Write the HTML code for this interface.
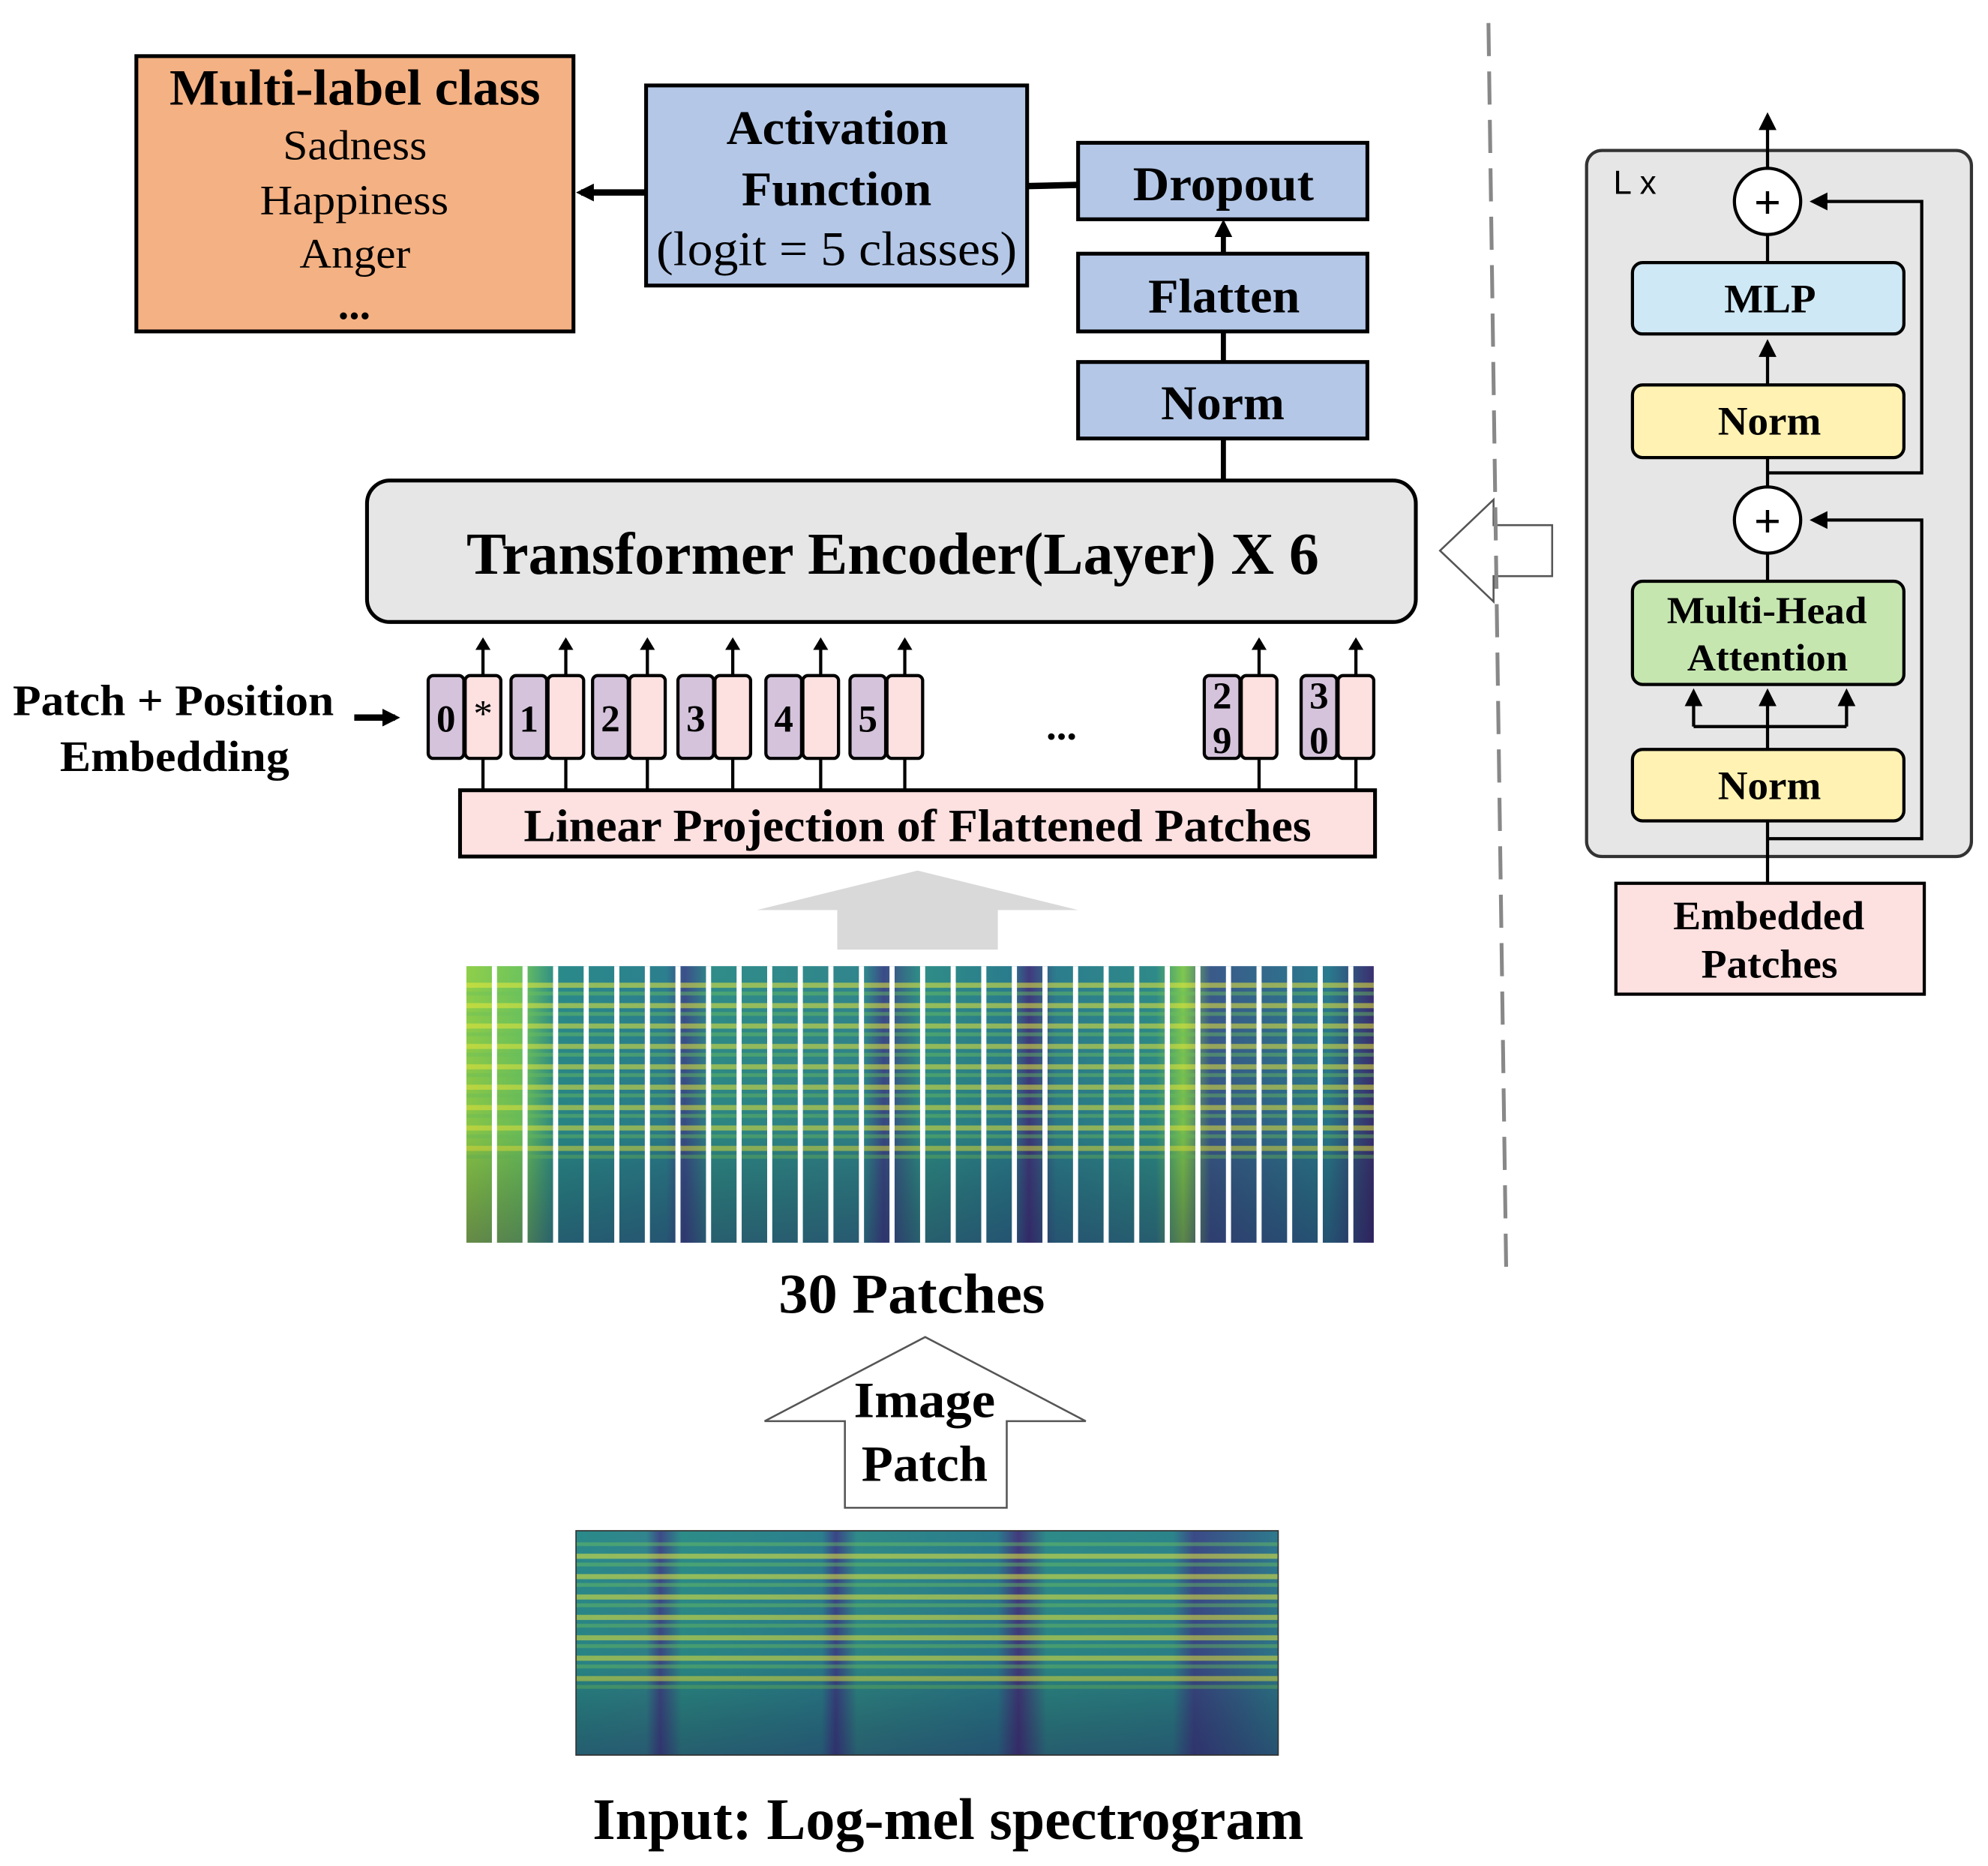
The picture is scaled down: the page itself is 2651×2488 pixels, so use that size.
<!DOCTYPE html>
<html><head><meta charset="utf-8"><style>
html,body{margin:0;padding:0;background:#fff;}
svg{display:block;}
text{font-family:"Liberation Serif",serif;}
</style></head><body>
<svg width="2651" height="2488" viewBox="0 0 1560 1464" xmlns="http://www.w3.org/2000/svg">
<defs>
<marker id="ah" markerWidth="10" markerHeight="12" refX="7" refY="6" orient="auto" markerUnits="userSpaceOnUse"><path d="M0,0 L10,6 L0,12 Z" fill="#000"/></marker>
<marker id="ah2" markerWidth="14" markerHeight="14" refX="10" refY="7" orient="auto" markerUnits="userSpaceOnUse"><path d="M0,0 L14,7 L0,14 Z" fill="#000"/></marker>
<linearGradient id="cols" x1="0" x2="1" y1="0" y2="0">
<stop offset="0" stop-color="#8fcf4a"/><stop offset="0.06" stop-color="#6ec45c"/><stop offset="0.1" stop-color="#2a8a8a"/>
<stop offset="0.22" stop-color="#2c7f8e"/><stop offset="0.24" stop-color="#3a4f8a"/><stop offset="0.27" stop-color="#2f8c88"/>
<stop offset="0.44" stop-color="#30858c"/><stop offset="0.46" stop-color="#3b4a87"/><stop offset="0.5" stop-color="#2f8d86"/>
<stop offset="0.6" stop-color="#2a7c8d"/><stop offset="0.62" stop-color="#403a7e"/><stop offset="0.65" stop-color="#2c7d8d"/>
<stop offset="0.76" stop-color="#2e8a88"/><stop offset="0.79" stop-color="#7ec84f"/><stop offset="0.82" stop-color="#3a5a8a"/>
<stop offset="0.95" stop-color="#2a7a8d"/><stop offset="1" stop-color="#3a2f70"/>
</linearGradient>
<linearGradient id="cols2" x1="0" x2="1" y1="0" y2="0">
<stop offset="0" stop-color="#2a8a8a"/><stop offset="0.1" stop-color="#30868c"/><stop offset="0.12" stop-color="#3d4a87"/><stop offset="0.15" stop-color="#2c8c88"/>
<stop offset="0.35" stop-color="#2b7f8d"/><stop offset="0.37" stop-color="#3b4587"/><stop offset="0.4" stop-color="#2f8a88"/>
<stop offset="0.6" stop-color="#2a7b8d"/><stop offset="0.63" stop-color="#423a7d"/><stop offset="0.67" stop-color="#2d8a88"/>
<stop offset="0.85" stop-color="#2c848b"/><stop offset="0.88" stop-color="#3b4a87"/><stop offset="1" stop-color="#2e7a8d"/>
</linearGradient>
<linearGradient id="vshade" x1="0" x2="0" y1="0" y2="1">
<stop offset="0" stop-color="#000" stop-opacity="0"/><stop offset="0.6" stop-color="#000" stop-opacity="0.05"/><stop offset="1" stop-color="#1a0a40" stop-opacity="0.35"/>
</linearGradient>
<pattern id="bands" width="20" height="16" patternUnits="userSpaceOnUse">
<rect y="3" width="20" height="4" fill="#e8e83a" opacity="0.55"/>
<rect y="10" width="20" height="3" fill="#6cc45a" opacity="0.45"/>
</pattern>
</defs>

<!-- Multi-label -->
<rect x="107" y="44" width="343" height="216" fill="#f4b183" stroke="#000" stroke-width="3"/>
<text x="133" y="82" font-size="40" font-weight="bold" textLength="291" lengthAdjust="spacingAndGlyphs">Multi-label class</text>
<text x="222" y="125" font-size="33" textLength="113" lengthAdjust="spacingAndGlyphs">Sadness</text>
<text x="204" y="168" font-size="33" textLength="148" lengthAdjust="spacingAndGlyphs">Happiness</text>
<text x="235" y="210" font-size="33" textLength="87" lengthAdjust="spacingAndGlyphs">Anger</text>
<text x="278" y="250" font-size="34" font-weight="bold" text-anchor="middle">...</text>
<line x1="507" y1="151" x2="456" y2="151" stroke="#000" stroke-width="5" marker-end="url(#ah2)"/>

<!-- Activation -->
<rect x="507" y="67" width="299" height="157" fill="#b4c7e7" stroke="#000" stroke-width="3"/>
<text x="570" y="113" font-size="38" font-weight="bold" textLength="174" lengthAdjust="spacingAndGlyphs">Activation</text>
<text x="582" y="161" font-size="38" font-weight="bold" textLength="149" lengthAdjust="spacingAndGlyphs">Function</text>
<text x="515" y="208" font-size="38" textLength="283" lengthAdjust="spacingAndGlyphs">(logit = 5 classes)</text>
<line x1="806" y1="146" x2="846" y2="145" stroke="#000" stroke-width="5"/>

<rect x="846" y="112" width="227" height="60" fill="#b4c7e7" stroke="#000" stroke-width="3"/>
<text x="889" y="157" font-size="38" font-weight="bold" textLength="142" lengthAdjust="spacingAndGlyphs">Dropout</text>
<rect x="846" y="199" width="227" height="61" fill="#b4c7e7" stroke="#000" stroke-width="3"/>
<text x="901" y="245" font-size="38" font-weight="bold" textLength="119" lengthAdjust="spacingAndGlyphs">Flatten</text>
<rect x="846" y="284" width="227" height="60" fill="#b4c7e7" stroke="#000" stroke-width="3"/>
<text x="911" y="329" font-size="38" font-weight="bold" textLength="97" lengthAdjust="spacingAndGlyphs">Norm</text>
<line x1="960" y1="199" x2="960" y2="176" stroke="#000" stroke-width="4" marker-end="url(#ah2)"/>
<line x1="960" y1="260" x2="960" y2="284" stroke="#000" stroke-width="4"/>
<line x1="960" y1="344" x2="960" y2="377" stroke="#000" stroke-width="4"/>

<!-- Encoder -->
<rect x="288" y="377" width="823" height="111" rx="18" fill="#e6e6e6" stroke="#000" stroke-width="3"/>
<text x="366" y="450" font-size="47" font-weight="bold" textLength="669" lengthAdjust="spacingAndGlyphs">Transformer Encoder(Layer) X 6</text>
<polygon points="1130,432 1172,392 1172,412 1218,412 1218,452 1172,452 1172,472" fill="#fff" stroke="#555" stroke-width="1.5"/>

<!-- dashed -->
<line x1="1168" y1="18" x2="1182" y2="1002" stroke="#888" stroke-width="3" stroke-dasharray="26,12"/>

<!-- tokens -->
<g stroke="#000" stroke-width="2.5">
<line x1="379" y1="595" x2="379" y2="620"/><line x1="444" y1="595" x2="444" y2="620"/><line x1="508" y1="595" x2="508" y2="620"/><line x1="575" y1="595" x2="575" y2="620"/><line x1="644" y1="595" x2="644" y2="620"/><line x1="710" y1="595" x2="710" y2="620"/><line x1="988" y1="595" x2="988" y2="620"/><line x1="1064" y1="595" x2="1064" y2="620"/>
<line x1="379" y1="530" x2="379" y2="503" marker-end="url(#ah)"/><line x1="444" y1="530" x2="444" y2="503" marker-end="url(#ah)"/><line x1="508" y1="530" x2="508" y2="503" marker-end="url(#ah)"/><line x1="575" y1="530" x2="575" y2="503" marker-end="url(#ah)"/><line x1="644" y1="530" x2="644" y2="503" marker-end="url(#ah)"/><line x1="710" y1="530" x2="710" y2="503" marker-end="url(#ah)"/><line x1="988" y1="530" x2="988" y2="503" marker-end="url(#ah)"/><line x1="1064" y1="530" x2="1064" y2="503" marker-end="url(#ah)"/>
<rect x="336" y="530" width="28" height="65" rx="4" fill="#d5c3dc"/><rect x="365" y="530" width="28" height="65" rx="4" fill="#fde0e0"/>
<rect x="401" y="530" width="28" height="65" rx="4" fill="#d5c3dc"/><rect x="430" y="530" width="28" height="65" rx="4" fill="#fde0e0"/>
<rect x="465" y="530" width="28" height="65" rx="4" fill="#d5c3dc"/><rect x="494" y="530" width="28" height="65" rx="4" fill="#fde0e0"/>
<rect x="532" y="530" width="28" height="65" rx="4" fill="#d5c3dc"/><rect x="561" y="530" width="28" height="65" rx="4" fill="#fde0e0"/>
<rect x="601" y="530" width="28" height="65" rx="4" fill="#d5c3dc"/><rect x="630" y="530" width="28" height="65" rx="4" fill="#fde0e0"/>
<rect x="667" y="530" width="28" height="65" rx="4" fill="#d5c3dc"/><rect x="696" y="530" width="28" height="65" rx="4" fill="#fde0e0"/>
<rect x="945" y="530" width="28" height="65" rx="4" fill="#d5c3dc"/><rect x="974" y="530" width="28" height="65" rx="4" fill="#fde0e0"/>
<rect x="1021" y="530" width="28" height="65" rx="4" fill="#d5c3dc"/><rect x="1050" y="530" width="28" height="65" rx="4" fill="#fde0e0"/>
</g>
<g font-size="30" font-weight="bold" text-anchor="middle">
<text x="350" y="574">0</text><text x="379" y="570" font-weight="normal">*</text>
<text x="415" y="574">1</text><text x="479" y="574">2</text><text x="546" y="574">3</text><text x="615" y="574">4</text><text x="681" y="574">5</text>
<text x="959" y="556">2</text><text x="959" y="591">9</text>
<text x="1035" y="556">3</text><text x="1035" y="591">0</text>
</g>
<text x="833" y="580" font-size="32" font-weight="bold" text-anchor="middle">...</text>
<rect x="361" y="620" width="718" height="52" fill="#fde0e0" stroke="#000" stroke-width="3"/>
<text x="411" y="660" font-size="36" font-weight="bold" textLength="618" lengthAdjust="spacingAndGlyphs">Linear Projection of Flattened Patches</text>

<text x="10" y="561" font-size="34" font-weight="bold" textLength="252" lengthAdjust="spacingAndGlyphs">Patch + Position</text>
<text x="47" y="605" font-size="34" font-weight="bold" textLength="180" lengthAdjust="spacingAndGlyphs">Embedding</text>
<line x1="278" y1="563" x2="310" y2="563" stroke="#000" stroke-width="5" marker-end="url(#ah2)"/>

<polygon points="594,714 720,683 846,714 783,714 783,745 657,745 657,714" fill="#d9d9d9"/>

<!-- spectrogram 1 -->
<rect x="366" y="758" width="712" height="217" fill="url(#cols)"/>
<rect x="366" y="770" width="712" height="140" fill="url(#bands)"/>
<rect x="366" y="758" width="712" height="217" fill="url(#vshade)"/>
<g fill="#fff">
<rect x="386" y="758" width="4" height="217"/><rect x="410" y="758" width="4" height="217"/><rect x="434" y="758" width="4" height="217"/><rect x="458" y="758" width="4" height="217"/><rect x="482" y="758" width="4" height="217"/><rect x="506" y="758" width="4" height="217"/><rect x="530" y="758" width="4" height="217"/><rect x="554" y="758" width="4" height="217"/><rect x="578" y="758" width="4" height="217"/><rect x="602" y="758" width="4" height="217"/><rect x="626" y="758" width="4" height="217"/><rect x="650" y="758" width="4" height="217"/><rect x="674" y="758" width="4" height="217"/><rect x="698" y="758" width="4" height="217"/><rect x="722" y="758" width="4" height="217"/><rect x="746" y="758" width="4" height="217"/><rect x="770" y="758" width="4" height="217"/><rect x="794" y="758" width="4" height="217"/><rect x="818" y="758" width="4" height="217"/><rect x="842" y="758" width="4" height="217"/><rect x="866" y="758" width="4" height="217"/><rect x="890" y="758" width="4" height="217"/><rect x="914" y="758" width="4" height="217"/><rect x="938" y="758" width="4" height="217"/><rect x="962" y="758" width="4" height="217"/><rect x="986" y="758" width="4" height="217"/><rect x="1010" y="758" width="4" height="217"/><rect x="1034" y="758" width="4" height="217"/><rect x="1058" y="758" width="4" height="217"/>
</g>
<text x="611" y="1030" font-size="44" font-weight="bold" textLength="209" lengthAdjust="spacingAndGlyphs">30 Patches</text>

<polygon points="600,1115 726,1049 852,1115 790,1115 790,1183 663,1183 663,1115" fill="#fff" stroke="#555" stroke-width="1.5"/>
<text x="670" y="1112" font-size="40" font-weight="bold" textLength="111" lengthAdjust="spacingAndGlyphs">Image</text>
<text x="676" y="1162" font-size="40" font-weight="bold" textLength="99" lengthAdjust="spacingAndGlyphs">Patch</text>

<!-- spectrogram 2 -->
<rect x="452" y="1201" width="551" height="176" fill="url(#cols2)"/>
<rect x="452" y="1210" width="551" height="120" fill="url(#bands)"/>
<rect x="452" y="1201" width="551" height="176" fill="url(#vshade)"/>
<rect x="452" y="1201" width="551" height="176" fill="none" stroke="#333" stroke-width="1"/>
<text x="465" y="1443" font-size="46" font-weight="bold" textLength="558" lengthAdjust="spacingAndGlyphs">Input: Log-mel spectrogram</text>

<!-- right panel -->
<rect x="1245" y="118" width="302" height="554" rx="12" fill="#e6e6e6" stroke="#333" stroke-width="2.5"/>
<text x="1266" y="152" font-size="26" style="font-family:'Liberation Sans',sans-serif">L x</text>
<g stroke="#000" stroke-width="2.5" fill="none">
<line x1="1387" y1="132" x2="1387" y2="92" marker-end="url(#ah2)"/>
<line x1="1387" y1="206" x2="1387" y2="184"/>
<line x1="1387" y1="302" x2="1387" y2="270" marker-end="url(#ah2)"/>
<line x1="1387" y1="359" x2="1387" y2="382"/>
<line x1="1387" y1="456" x2="1387" y2="434"/>
<line x1="1387" y1="693" x2="1387" y2="644"/>
<line x1="1387" y1="588" x2="1387" y2="570"/>
<polyline points="1329,570 1449,570"/>
<line x1="1329" y1="570" x2="1329" y2="544" marker-end="url(#ah2)"/>
<line x1="1387" y1="570" x2="1387" y2="544" marker-end="url(#ah2)"/>
<line x1="1449" y1="570" x2="1449" y2="544" marker-end="url(#ah2)"/>
<polyline points="1387,658 1508,658 1508,408 1424,408" marker-end="url(#ah2)"/>
<polyline points="1387,371 1508,371 1508,158 1424,158" marker-end="url(#ah2)"/>
</g>
<circle cx="1387" cy="158" r="26" fill="#fff" stroke="#000" stroke-width="2.5"/>
<text x="1387" y="171" font-size="36" text-anchor="middle" style="font-family:'Liberation Sans',sans-serif">+</text>
<circle cx="1387" cy="408" r="26" fill="#fff" stroke="#000" stroke-width="2.5"/>
<text x="1387" y="421" font-size="36" text-anchor="middle" style="font-family:'Liberation Sans',sans-serif">+</text>
<rect x="1281" y="206" width="213" height="56" rx="8" fill="#cfe8f5" stroke="#000" stroke-width="2.5"/>
<text x="1353" y="245" font-size="32" font-weight="bold" textLength="72" lengthAdjust="spacingAndGlyphs">MLP</text>
<rect x="1281" y="302" width="213" height="57" rx="8" fill="#fff2b3" stroke="#000" stroke-width="2.5"/>
<text x="1348" y="341" font-size="32" font-weight="bold" textLength="81" lengthAdjust="spacingAndGlyphs">Norm</text>
<rect x="1281" y="456" width="213" height="81" rx="8" fill="#c6e6b0" stroke="#000" stroke-width="2.5"/>
<text x="1308" y="489" font-size="30" font-weight="bold" textLength="157" lengthAdjust="spacingAndGlyphs">Multi-Head</text>
<text x="1324" y="526" font-size="30" font-weight="bold" textLength="126" lengthAdjust="spacingAndGlyphs">Attention</text>
<rect x="1281" y="588" width="213" height="56" rx="8" fill="#fff2b3" stroke="#000" stroke-width="2.5"/>
<text x="1348" y="627" font-size="32" font-weight="bold" textLength="81" lengthAdjust="spacingAndGlyphs">Norm</text>
<rect x="1268" y="693" width="242" height="87" fill="#fde0e0" stroke="#000" stroke-width="2.5"/>
<text x="1313" y="729" font-size="32" font-weight="bold" textLength="150" lengthAdjust="spacingAndGlyphs">Embedded</text>
<text x="1335" y="767" font-size="32" font-weight="bold" textLength="107" lengthAdjust="spacingAndGlyphs">Patches</text>
</svg>
</body></html>
